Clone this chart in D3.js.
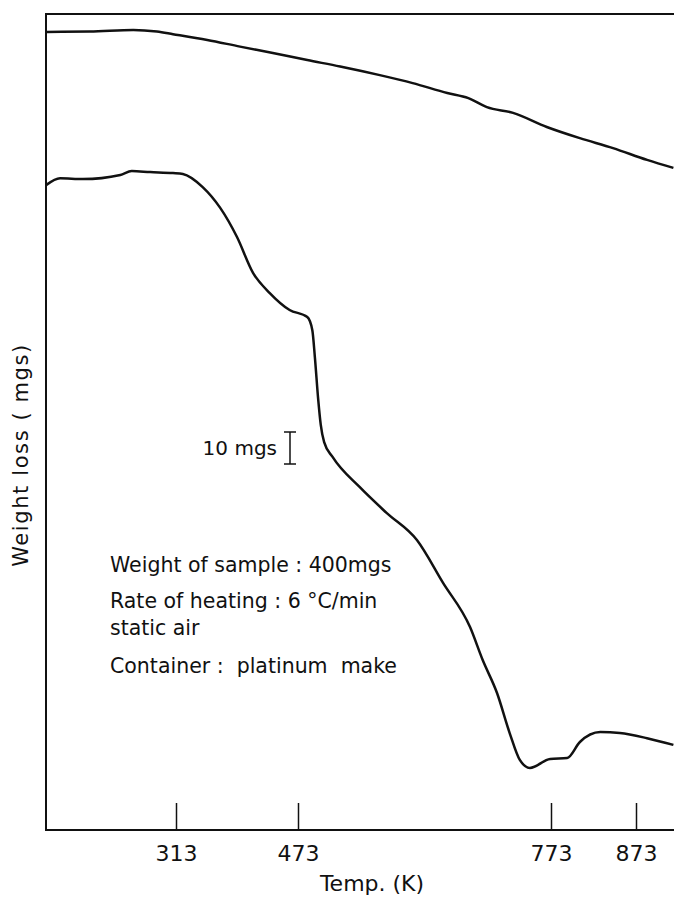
<!DOCTYPE html>
<html>
<head>
<meta charset="utf-8">
<script src="https://cdn.jsdelivr.net/npm/d3@7"></script>
<style>
  body { margin: 0; background: #fff; }
  svg { display: block; }
  text { font-family: "DejaVu Sans", sans-serif; fill: #111; }
</style>
</head>
<body>
<svg id="chart"></svg>
<script>
// tick labels on the temperature axis (K)
const tempTicks = [313, 473, 773, 873];

// lower curve: weight loss of the sample
const tgTemp = [143, 161, 191, 240, 255, 279, 309, 322, 348, 371, 393, 414, 436, 462,
  484, 490, 493, 497, 500, 504, 514, 546, 578, 614, 645, 677, 692, 709, 724, 736,
  748, 772, 792, 807, 831, 854, 886, 917];
const tgLoss = [53.4, 51.3, 51.6, 50.3, 49.1, 49.4, 49.7, 50.0, 54.1, 60.6, 69.7, 80.9, 87.2, 92.5,
  94.7, 98.8, 107.2, 120.6, 128.4, 133.8, 138.4, 147.8, 155.9, 164.4, 177.8, 191.6, 201.9, 212.2, 224.7, 233.1,
  235.6, 232.8, 232.5, 227.5, 224.4, 224.7, 226.3, 228.4];

// upper curve
const upTemp = [143, 200, 257, 288, 309, 354, 397, 440, 484, 523, 570, 609, 650, 675,
  697, 728, 768, 807, 846, 886, 917];
const upLoss = [5.6, 5.5, 5.0, 5.5, 6.3, 8.1, 10.2, 12.2, 14.4, 16.4, 19.1, 21.6, 24.7, 26.3,
  29.1, 30.9, 35.3, 38.8, 41.9, 45.6, 48.1];

const scaleBarMg = 10;

const width = 674, height = 897;
const plotLeft = 46, plotRight = 674, plotTop = 14, plotBottom = 830;

const svg = d3.select('#chart')
  .attr('width', width)
  .attr('height', height);

// the paper chart's temperature axis is not quite linear, so calibrate on the ticks
const x = d3.scaleLinear()
  .domain(tempTicks)
  .range([176, 298, 551, 636]);

const y = d3.scaleLinear()
  .domain([0, 255])
  .range([plotTop, plotBottom]);

// frame: top, left, bottom
svg.append('path')
  .attr('d', `M${plotRight},${plotTop}H${plotLeft}V${plotBottom}H${plotRight}`)
  .attr('fill', 'none')
  .attr('stroke', '#111')
  .attr('stroke-width', 2);

// temperature axis, ticks pointing up into the plot
const xAxis = svg.append('g')
  .attr('transform', `translate(0,${plotBottom})`)
  .call(d3.axisBottom(x)
    .tickValues(tempTicks)
    .tickSizeInner(-27)
    .tickSizeOuter(0)
    .tickPadding(15));
xAxis.select('.domain').remove();
xAxis.selectAll('.tick line')
  .attr('stroke', '#111')
  .attr('stroke-width', 1.5);
xAxis.selectAll('.tick text')
  .attr('font-family', '"DejaVu Sans", sans-serif')
  .attr('font-size', 22)
  .attr('fill', '#111');

svg.append('text')
  .attr('x', 372)
  .attr('y', 891)
  .attr('text-anchor', 'middle')
  .attr('font-size', 22)
  .text('Temp. (K)');

svg.append('text')
  .attr('transform', 'translate(28,455) rotate(-90)')
  .attr('text-anchor', 'middle')
  .attr('font-size', 21)
  .attr('letter-spacing', 1.6)
  .text('Weight loss ( mgs)');

const line = d3.line()
  .x(d => x(d[0]))
  .y(d => y(d[1]))
  .curve(d3.curveMonotoneX);

svg.append('path')
  .datum(d3.zip(upTemp, upLoss))
  .attr('d', line)
  .attr('fill', 'none')
  .attr('stroke', '#111')
  .attr('stroke-width', 2.5)
  .attr('stroke-linejoin', 'round');

svg.append('path')
  .datum(d3.zip(tgTemp, tgLoss))
  .attr('d', line)
  .attr('fill', 'none')
  .attr('stroke', '#111')
  .attr('stroke-width', 2.5)
  .attr('stroke-linejoin', 'round');

// 10 mgs scale bar
const barX = 290, barTop = 432;
const barLen = y(scaleBarMg) - y(0);
const bar = svg.append('g').attr('stroke', '#111').attr('stroke-width', 1.5);
bar.append('line').attr('x1', barX).attr('x2', barX).attr('y1', barTop).attr('y2', barTop + barLen);
bar.append('line').attr('x1', barX - 6).attr('x2', barX + 6).attr('y1', barTop).attr('y2', barTop);
bar.append('line').attr('x1', barX - 6).attr('x2', barX + 6).attr('y1', barTop + barLen).attr('y2', barTop + barLen);

svg.append('text')
  .attr('x', 277)
  .attr('y', 455)
  .attr('text-anchor', 'end')
  .attr('font-size', 20)
  .text(scaleBarMg + ' mgs');

// experiment notes
const notes = [
  'Weight of sample : 400mgs',
  'Rate of heating : 6 °C/min',
  'static air',
  'Container :  platinum  make'
];
const noteY = [572, 608, 635, 673];

svg.selectAll('.note')
  .data(notes)
  .join('text')
  .attr('class', 'note')
  .attr('x', 110)
  .attr('y', (d, i) => noteY[i])
  .attr('font-size', 20.5)
  .style('white-space', 'pre')
  .text(d => d);
</script>
</body>
</html>
